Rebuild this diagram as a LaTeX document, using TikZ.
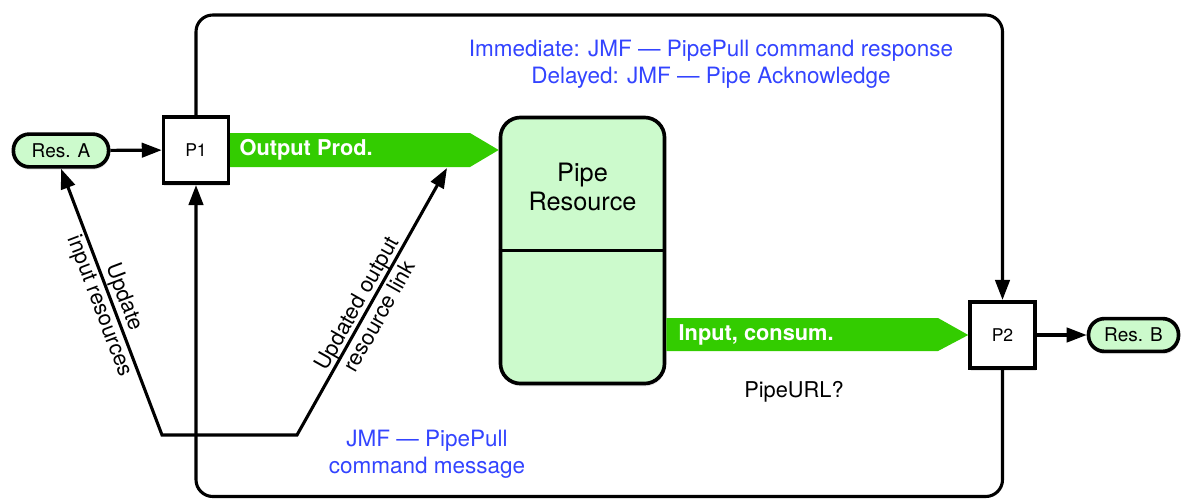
\documentclass[tikz,border=0pt]{standalone}
\usepackage{fontspec}
\setmainfont{TeX Gyre Heros}
\usepackage{xcolor}
\usetikzlibrary{arrows.meta,positioning,calc,shadows}

\definecolor{resgreen}{HTML}{CCFACC}
\definecolor{flowgreen}{HTML}{33CC00}
\definecolor{jmfblue}{HTML}{3344FF}

\begin{document}
\begin{tikzpicture}[
    x=0.025cm, y=-0.025cm,
    line width=2.2pt,
    arr/.style={-{Triangle[length=5mm, width=3.6mm]}},
    twoarr/.style={{Triangle[length=5mm, width=3.6mm]}-{Triangle[length=5mm, width=3.6mm]}},
    procbox/.style={draw, fill=white, line width=2.6pt, minimum width=1.62cm, minimum height=1.66cm, font=\fontsize{12.5}{14}\selectfont, drop shadow={opacity=0.2, shadow xshift=0.5pt, shadow yshift=-2pt}},
    resbox/.style={draw, fill=resgreen, line width=2.6pt, rounded corners=0.4cm, minimum width=2.38cm, minimum height=0.82cm, font=\fontsize{13.5}{15}\selectfont, drop shadow={opacity=0.2, shadow xshift=0.5pt, shadow yshift=-2pt}},
    pipebox/.style={draw, fill=resgreen, line width=2.6pt, rounded corners=0.5cm, minimum width=4.1cm, minimum height=6.65cm, drop shadow={opacity=0.2, shadow xshift=0.5pt, shadow yshift=-2pt}},
    flow/.style={fill=flowgreen},
    flowtext/.style={text=white, font=\bfseries\fontsize{15.5}{18}\selectfont, inner sep=0pt, anchor=west},
    jmftext/.style={text=jmfblue, align=center, font=\fontsize{16}{19.2}\selectfont},
    labeltext/.style={align=center, font=\fontsize{15.5}{18.5}\selectfont}
  ]
    \useasboundingbox (0,0) rectangle (1181,500);

    % boxes
    \node[resbox] (resA) at (61,150.5) {Res. A};
    \node[procbox] (p1) at (196,150) {P1};
    \node[pipebox] (pipe) at (582.5,250.5) {};
    \node[font=\fontsize{18}{20}\selectfont, align=center] (pipename) at (582.5,187) {Pipe\\Resource};
    \draw[line width=2.6pt] (pipe.west) -- (pipe.east);
    \node[procbox] (p2) at (1002.5,335) {P2};
    \node[resbox, minimum width=2.25cm] (resB) at (1133.5,335) {Res. B};

    % green flows
    \fill[flow] (p1.east |- 0,133) -- (470,133) -- (pipe.west |- p1.east) -- (470,167) -- (p1.east |- 0,167) -- cycle;
    \node[flowtext] (outprod) at (238,150) {Output Prod.};
    \fill[flow] (pipe.east |- 0,318) -- (938,318) -- (p2.west) -- (938,351) -- (pipe.east |- 0,351) -- cycle;
    \node[flowtext] (inconsum) at (677,334.5) {Input, consum.};

    % connectors
    \draw[arr] (resA) -- (p1);
    \draw[arr] (p2) -- (resB);
    \draw[arr, rounded corners=0.42cm] (p1.north) -- (p1.north |- 0,15) -- (p2.north |- 0,15) -- (p2.north);
    \draw[arr, rounded corners=0.42cm] (p2.south) -- (p2.south |- 0,496.5) -- (p1.south |- 0,496.5) -- (p1.south);

    \coordinate (vleft) at (162,435);
    \coordinate (vright) at (297,435);
    \coordinate (outtip) at (447,168);
    \draw[twoarr] (resA.south)
      -- node[labeltext, sloped, pos=0.5] (updlbl) {Update\\input resources} (vleft)
      -- (vright)
      -- node[labeltext, sloped, pos=0.47] (linklbl) {Updated output\\resource link} (outtip);

    % messages
    \node[jmftext] (resp) at (711,64) {Immediate: JMF — PipePull command response\\Delayed: JMF — Pipe Acknowledge};
    \node[jmftext] (cmd) at (427,454) {JMF — PipePull\\command message};
    \node[labeltext] (url) at (794,392) {PipeURL?};
\end{tikzpicture}
\end{document}
